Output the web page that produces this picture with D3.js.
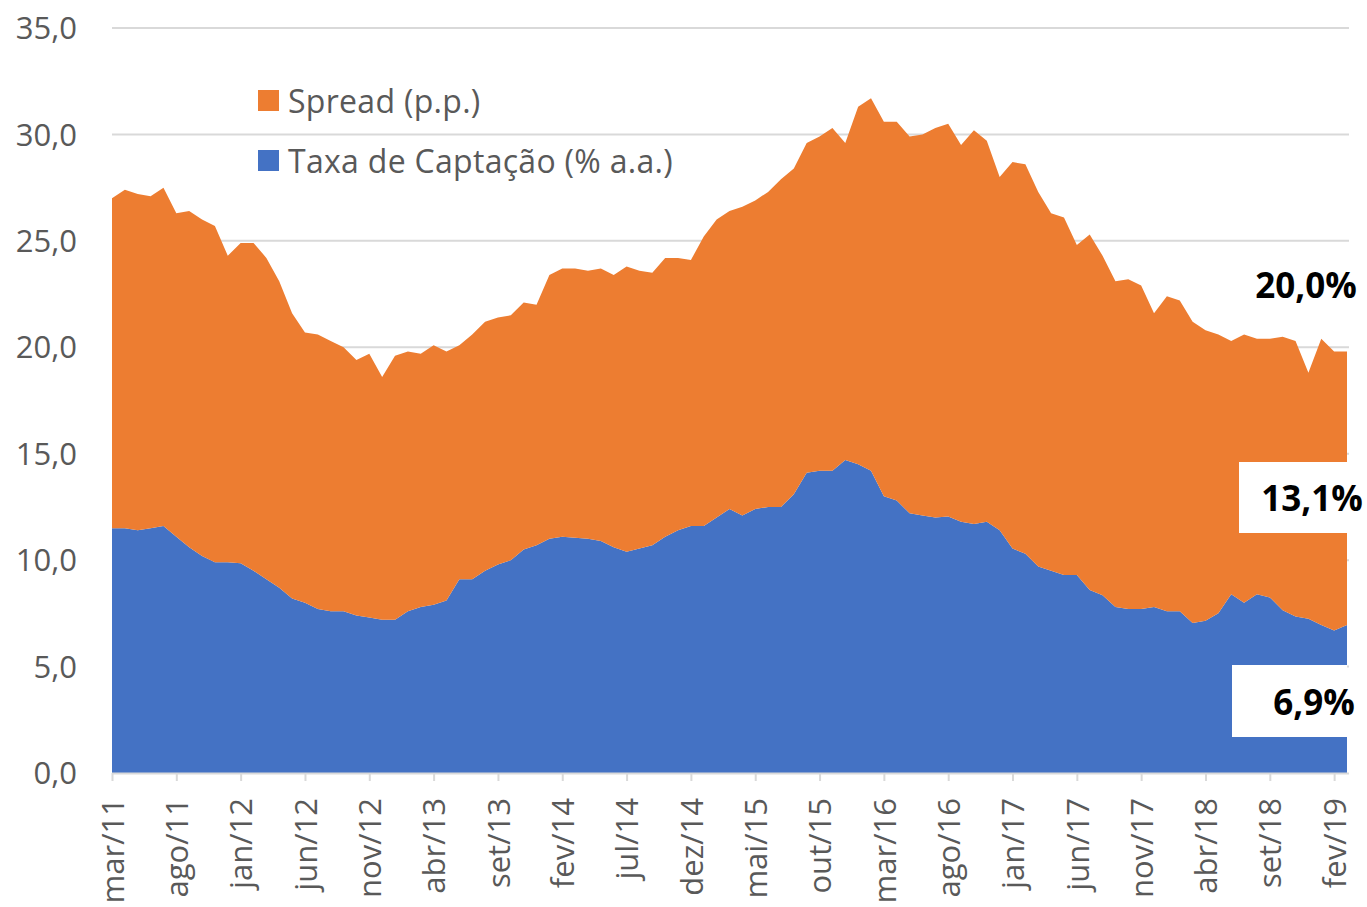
<!DOCTYPE html>
<html>
<head>
<meta charset="utf-8">
<script src="https://cdn.jsdelivr.net/npm/d3@7"></script>
<style>
body { margin: 0; background: #fff; }
text { font-family: "Open Sans", sans-serif; }
</style>
</head>
<body>
<svg></svg>
<script>
const width = 1367;
const height = 907;

// meses de mar/11 a mar/19
const mesesNomes = ['jan','fev','mar','abr','mai','jun','jul','ago','set','out','nov','dez'];
const meses = [];
for (let k = 0; k < 97; k++) {
    const m = (2 + k) % 12;
    const a = 11 + Math.floor((2 + k) / 12);
    meses.push(mesesNomes[m] + '/' + a);
}

const taxaCaptacao = [
    11.5, 11.5, 11.4, 11.5, 11.6, 11.1, 10.6, 10.2, 9.9, 9.9,
    9.85, 9.5, 9.1, 8.7, 8.2, 8.0, 7.7, 7.6, 7.6, 7.4,
    7.3, 7.2, 7.2, 7.6, 7.8, 7.9, 8.1, 9.1, 9.1, 9.5,
    9.8, 10.0, 10.5, 10.7, 11.0, 11.1, 11.05, 11.0, 10.9, 10.6,
    10.4, 10.55, 10.7, 11.1, 11.4, 11.6, 11.6, 12.0, 12.4, 12.1,
    12.4, 12.5, 12.5, 13.1, 14.1, 14.2, 14.2, 14.7, 14.5, 14.2,
    13.0, 12.8, 12.2, 12.1, 12.0, 12.05, 11.8, 11.7, 11.8, 11.4,
    10.55, 10.3, 9.7, 9.5, 9.3, 9.3, 8.6, 8.35, 7.8, 7.7,
    7.7, 7.8, 7.6, 7.6, 7.05, 7.15, 7.5, 8.4, 8.0, 8.4,
    8.25, 7.65, 7.35, 7.25, 6.95, 6.7, 6.95
];

const spread = [
    15.5, 15.9, 15.8, 15.6, 15.9, 15.2, 15.8, 15.8, 15.8, 14.4,
    15.05, 15.4, 15.1, 14.4, 13.4, 12.7, 12.9, 12.7, 12.4, 12.0,
    12.4, 11.4, 12.4, 12.2, 11.9, 12.2, 11.7, 11.0, 11.5, 11.7,
    11.6, 11.5, 11.6, 11.3, 12.4, 12.6, 12.65, 12.6, 12.8, 12.8,
    13.4, 13.05, 12.8, 13.1, 12.8, 12.5, 13.6, 14.0, 14.0, 14.5,
    14.5, 14.8, 15.4, 15.3, 15.5, 15.7, 16.1, 14.9, 16.8, 17.5,
    17.6, 17.8, 17.7, 17.9, 18.3, 18.45, 17.7, 18.5, 17.9, 16.6,
    18.15, 18.3, 17.6, 16.8, 16.8, 15.5, 16.7, 15.95, 15.3, 15.5,
    15.2, 13.8, 14.8, 14.6, 14.15, 13.65, 13.1, 11.9, 12.6, 12.0,
    12.15, 12.85, 12.95, 11.55, 13.45, 13.1, 12.85
];

const yTicks = [0, 5, 10, 15, 20, 25, 30, 35];
const series = ['Taxa de Captação (% a.a.)', 'Spread (p.p.)'];
const cores = ['#4472C4', '#ED7D31'];
const rotulos = ['20,0%', '13,1%', '6,9%'];

const svg = d3.select('svg').attr('width', width).attr('height', height);

const x = d3.scalePoint().domain(meses).range([112, 1347]);
const y = d3.scaleLinear().domain([0, 35]).range([773, 28]);

const fmt = v => v.toFixed(1).replace('.', ',');

// grade
svg.append('g')
    .selectAll('line')
    .data(yTicks.filter(d => d > 0))
    .enter().append('line')
    .attr('x1', 112).attr('x2', 1349)
    .attr('y1', d => y(d)).attr('y2', d => y(d))
    .style('stroke', '#d9d9d9')
    .style('stroke-width', '2px');

const tabela = meses.map((m, i) => ({ mes: m, taxa: taxaCaptacao[i], spread: spread[i] }));
const stack = d3.stack().keys(['taxa', 'spread']);
const camadas = stack(tabela);

const area = d3.area()
    .x(d => x(d.data.mes))
    .y0(d => y(d[0]))
    .y1(d => y(d[1]));

svg.append('g')
    .selectAll('path')
    .data(camadas)
    .enter().append('path')
    .attr('d', area)
    .style('fill', (d, i) => cores[i]);

// eixo y
svg.append('g')
    .selectAll('text')
    .data(yTicks)
    .enter().append('text')
    .attr('x', 77)
    .attr('y', d => y(d))
    .attr('dy', '0.36em')
    .attr('text-anchor', 'end')
    .style('font-size', '31px')
    .style('fill', '#595959')
    .text(fmt);

// eixo x
const xAxis = d3.axisBottom(x)
    .tickValues(meses.filter((m, i) => i % 5 === 0))
    .tickSize(8)
    .tickSizeOuter(0);

const gx = svg.append('g')
    .attr('transform', 'translate(0,' + y(0) + ')')
    .call(xAxis);
gx.select('.domain').style('stroke', '#d9d9d9').style('stroke-width', '2px')
    .attr('d', 'M112,0.5H1349');
gx.selectAll('.tick line').style('stroke', '#d9d9d9').style('stroke-width', '2px');
gx.selectAll('.tick text')
    .attr('transform', 'rotate(-90)')
    .attr('x', -25)
    .attr('y', 0)
    .attr('dy', '0.36em')
    .attr('text-anchor', 'end')
    .style('font-family', '"Open Sans", sans-serif')
    .style('font-size', '31px')
    .style('fill', '#595959');

// legenda
const legenda = svg.append('g');
[1, 0].forEach((s, j) => {
    legenda.append('rect')
        .attr('x', 258).attr('y', 90 + j * 60)
        .attr('width', 21).attr('height', 21)
        .style('fill', cores[s]);
    legenda.append('text')
        .attr('x', 288).attr('y', 101 + j * 60)
        .attr('dy', '0.36em')
        .style('font-size', '32px')
        .style('letter-spacing', '0.3px')
        .style('fill', '#595959')
        .text(series[s]);
});

// rotulos finais
svg.append('rect').attr('x', 1239).attr('y', 462).attr('width', 128).attr('height', 71).style('fill', '#fff');
svg.append('rect').attr('x', 1232).attr('y', 665).attr('width', 115).attr('height', 72).style('fill', '#fff');

const posRotulos = [[1306, 285], [1312, 498], [1314, 702]];
svg.append('g')
    .selectAll('text')
    .data(rotulos)
    .enter().append('text')
    .attr('x', (d, i) => posRotulos[i][0])
    .attr('y', (d, i) => posRotulos[i][1])
    .attr('dy', '0.36em')
    .attr('text-anchor', 'middle')
    .style('font-size', '35px')
    .style('font-weight', 'bold')
    .style('fill', '#000')
    .text(d => d);
</script>
</body>
</html>
